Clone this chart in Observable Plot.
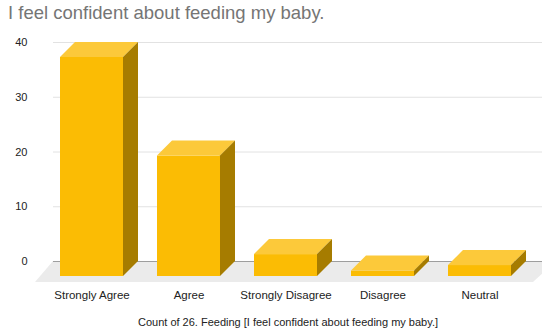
<!DOCTYPE html>
<html><head><meta charset="utf-8">
<script src="https://cdn.jsdelivr.net/npm/d3@7"></script>
<script src="https://cdn.jsdelivr.net/npm/@observablehq/plot@0.6"></script>
<style>
body{margin:0;background:#fff;font-family:"Liberation Sans",Arial,Helvetica,sans-serif;}
#wrap{width:542px;height:333px;position:relative;overflow:hidden;background:#fff;}
#title{height:26px;padding-top:4px;padding-left:8px;font-size:18.5px;line-height:18.5px;color:#757575;white-space:nowrap;}
#chart svg{display:block;overflow:visible;}
#caption{padding-top:6px;padding-left:34px;text-align:center;font-size:11px;line-height:20px;color:#222;white-space:nowrap;}
</style>
</head><body>
<div id="wrap">
  <div id="title"></div>
  <div id="chart"></div>
  <div id="caption"></div>
</div>
<script>
const titleText = "I feel confident about feeding my baby.";
const captionText = "Count of 26. Feeding [I feel confident about feeding my baby.]";
const categories = ["Strongly Agree", "Agree", "Strongly Disagree", "Disagree", "Neutral"];
const counts = [40, 22, 4, 1, 2];
const yTicks = [0, 10, 20, 30, 40];

document.getElementById("title").textContent = titleText;
document.getElementById("caption").textContent = captionText;

const data = categories.map((c, i) => ({category: c, count: counts[i]}));
const depth = 15;
const frontColor = "#FBBC04", topColor = "#FCC93A", sideColor = "#A67C00";

function floor(index, scales, values, dim) {
  const y0 = scales.y(0);
  const left = dim.marginLeft;
  const g = d3.create("svg:g");
  g.append("polygon")
    .attr("points", [[left, y0], [dim.width + 14, y0], [dim.width - 9, y0 + 21], [left - 18, y0 + 21]].join(" "))
    .attr("fill", "#ebebeb");
  return g.node();
}

function faces(index, scales) {
  const x = scales.x, y = scales.y;
  const bw = typeof x.bandwidth === "function" ? x.bandwidth() : scales.scales.x.bandwidth;
  const g = d3.create("svg:g");
  data.forEach(d => {
    const x0 = x(d.category), x1 = x0 + bw, yt = y(d.count), yb = y(0);
    g.append("polygon")
      .attr("points", [[x0, yt + depth], [x1, yt + depth], [x1 + depth, yt], [x0 + depth, yt]].join(" "))
      .attr("fill", topColor);
    g.append("polygon")
      .attr("points", [[x1, yt + depth], [x1 + depth, yt], [x1 + depth, yb], [x1, yb + depth]].join(" "))
      .attr("fill", sideColor);
  });
  return g.node();
}

const plot = Plot.plot({
  width: 542,
  height: 276,
  marginLeft: 53,
  marginRight: 0,
  marginTop: 12,
  marginBottom: 45,
  style: {fontFamily: '"Liberation Sans", Arial, Helvetica, sans-serif', fontSize: "11px", color: "#222", background: "#fff", overflow: "visible"},
  x: {domain: categories, range: [26, 545], paddingInner: 0.35, paddingOuter: 0.35, label: null},
  y: {domain: [0, 40], label: null},
  marks: [
    floor,
    Plot.gridY(yTicks, {stroke: "#e2e2e2", strokeOpacity: 1}),
    Plot.ruleY([0], {stroke: "#9e9e9e"}),
    Plot.barY(data, {x: "category", y: "count", fill: frontColor, dy: depth}),
    faces,
    Plot.axisY(yTicks, {tickSize: 0, tickPadding: 26, fontSize: 11, fill: "#222", label: null}),
    Plot.axisX({tickSize: 0, tickPadding: 29, fontSize: 11.5, fill: "#222", label: null})
  ]
});
document.getElementById("chart").appendChild(plot);
</script>
</body></html>
